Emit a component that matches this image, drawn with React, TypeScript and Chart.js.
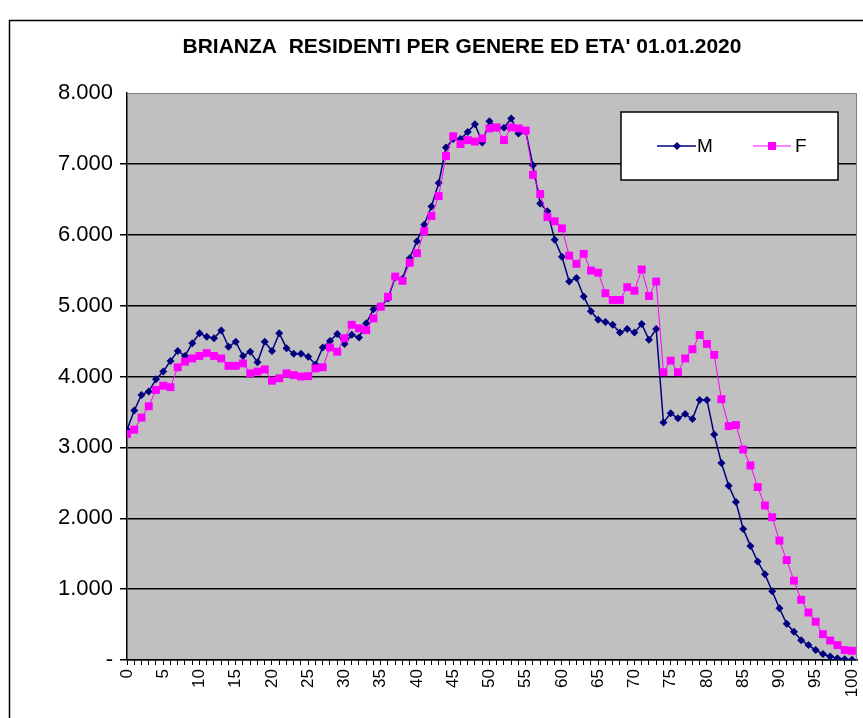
import React, { useEffect, useRef } from 'react';
import { Chart, registerables } from 'chart.js';

Chart.register(...registerables);

const TITLE = "BRIANZA  RESIDENTI PER GENERE ED ETA' 01.01.2020";
const FONT = '"Liberation Sans", Arial, sans-serif';

// ages 0..100 (category labels)
const AGES: number[] = Array.from({ length: 101 }, (_, i) => i);

const MALES: number[] = [
  3250, 3520, 3740, 3790, 3960, 4070, 4220, 4360, 4290, 4470,
  4610, 4560, 4540, 4650, 4420, 4490, 4290, 4350, 4200, 4490,
  4360, 4610, 4400, 4320, 4320, 4280, 4170, 4410, 4500, 4600,
  4460, 4590, 4550, 4750, 4950, 4990, 5100, 5400, 5380, 5670,
  5910, 6140, 6400, 6730, 7230, 7350, 7350, 7450, 7560, 7300,
  7600, 7510, 7510, 7640, 7430, 7460, 6980, 6440, 6330, 5930,
  5690, 5340, 5390, 5130, 4920, 4800, 4770, 4730, 4620, 4670,
  4620, 4740, 4520, 4670, 3350, 3480, 3410, 3470, 3400, 3670,
  3670, 3180, 2780, 2460, 2230, 1850, 1610, 1390, 1210, 970,
  730, 510, 400, 280, 210, 140, 85, 50, 25, 12,
  5,
];

const FEMALES: number[] = [
  3190, 3250, 3420, 3580, 3810, 3870, 3850, 4130, 4210, 4255,
  4290, 4330, 4290, 4255, 4150, 4150, 4185, 4045, 4070, 4100,
  3940, 3975, 4045, 4020, 4000, 4005, 4115, 4130, 4410, 4350,
  4540, 4730, 4680, 4655, 4820, 4985, 5125, 5410, 5350, 5605,
  5740, 6050, 6265, 6545, 7110, 7390, 7280, 7335, 7315, 7360,
  7500, 7515, 7335, 7515, 7500, 7470, 6845, 6575, 6250, 6190,
  6090, 5705, 5590, 5730, 5495, 5465, 5175, 5080, 5080, 5260,
  5210, 5510, 5135, 5340, 4060, 4225, 4060, 4255, 4385, 4585,
  4460, 4305, 3680, 3300, 3315, 2970, 2745, 2440, 2180, 2015,
  1685, 1410, 1120, 850, 670, 540, 365, 275, 210, 140,
  130,
];

const SERIES_NAMES = ['M', 'F'];
const M_COLOR = '#000080';
const F_COLOR = '#FF00FF';

const decorPlugin = {
  id: 'decor',
  beforeDraw(chart: any) {
    const { ctx, chartArea, width, height } = chart;
    ctx.save();
    ctx.fillStyle = '#ffffff';
    ctx.fillRect(0, 0, width, height);
    ctx.fillStyle = '#C0C0C0';
    ctx.fillRect(chartArea.left, chartArea.top, chartArea.right - chartArea.left, chartArea.bottom - chartArea.top);
    // outer chart border
    ctx.strokeStyle = '#000';
    ctx.lineWidth = 1.5;
    ctx.beginPath();
    ctx.moveTo(9.5, height + 5);
    ctx.lineTo(9.5, 20.5);
    ctx.lineTo(width + 5, 20.5);
    ctx.stroke();
    ctx.restore();
  },
  beforeDatasetsDraw(chart: any) {
    const { ctx, chartArea } = chart;
    ctx.save();
    ctx.strokeStyle = '#808080';
    ctx.lineWidth = 1;
    ctx.beginPath();
    ctx.moveTo(chartArea.left, chartArea.top + 0.5);
    ctx.lineTo(chartArea.right - 0.5, chartArea.top + 0.5);
    ctx.lineTo(chartArea.right - 0.5, chartArea.bottom);
    ctx.stroke();
    ctx.restore();
  },
  afterDatasetsDraw(chart: any) {
    const { ctx } = chart;
    ctx.save();
    // title
    ctx.fillStyle = '#000';
    ctx.font = `bold 21px ${FONT}`;
    ctx.textAlign = 'center';
    ctx.textBaseline = 'middle';
    ctx.fillText(TITLE, 462, 47);

    // legend box
    ctx.fillStyle = '#fff';
    ctx.fillRect(621, 112, 217, 68);
    ctx.strokeStyle = '#000';
    ctx.lineWidth = 1.5;
    ctx.strokeRect(621, 112, 217, 68);

    const ly = 146;
    // M sample
    ctx.strokeStyle = M_COLOR;
    ctx.lineWidth = 1.5;
    ctx.beginPath();
    ctx.moveTo(657, ly);
    ctx.lineTo(696, ly);
    ctx.stroke();
    ctx.fillStyle = M_COLOR;
    ctx.beginPath();
    ctx.moveTo(677 - 4, ly);
    ctx.lineTo(677, ly - 4);
    ctx.lineTo(677 + 4, ly);
    ctx.lineTo(677, ly + 4);
    ctx.closePath();
    ctx.fill();
    // F sample
    ctx.strokeStyle = F_COLOR;
    ctx.lineWidth = 1;
    ctx.beginPath();
    ctx.moveTo(753, ly);
    ctx.lineTo(791, ly);
    ctx.stroke();
    ctx.fillStyle = F_COLOR;
    ctx.fillRect(772 - 4, ly - 4, 8, 8);

    ctx.fillStyle = '#000';
    ctx.font = `19px ${FONT}`;
    ctx.textAlign = 'left';
    ctx.fillText(SERIES_NAMES[0], 697, ly + 1);
    ctx.fillText(SERIES_NAMES[1], 795, ly + 1);
    ctx.restore();
  },
};

export default function App() {
  const canvasRef = useRef<HTMLCanvasElement | null>(null);

  useEffect(() => {
    if (!canvasRef.current) return;
    const chart = new Chart(canvasRef.current, {
      type: 'line',
      data: {
        labels: AGES,
        datasets: [
          {
            label: SERIES_NAMES[0],
            data: MALES,
            borderColor: M_COLOR,
            backgroundColor: M_COLOR,
            borderWidth: 1.5,
            pointStyle: 'rectRot',
            pointRadius: 4,
            pointBorderWidth: 0,
            pointBackgroundColor: M_COLOR,
            tension: 0,
            order: 2,
          },
          {
            label: SERIES_NAMES[1],
            data: FEMALES,
            borderColor: F_COLOR,
            backgroundColor: F_COLOR,
            borderWidth: 1,
            pointStyle: 'rect',
            pointRadius: 5.6,
            pointBorderWidth: 0,
            pointBackgroundColor: F_COLOR,
            tension: 0,
            order: 1,
          },
        ],
      },
      options: {
        animation: false,
        responsive: false,
        maintainAspectRatio: false,
        events: [],
        layout: { padding: { left: 0, top: 93, right: 6, bottom: 0 } },
        plugins: {
          legend: { display: false },
          title: { display: false },
          tooltip: { enabled: false },
        },
        scales: {
          x: {
            type: 'linear',
            min: 0,
            max: 100.7,
            afterBuildTicks: (s: any) => {
              s.ticks = AGES.map((v) => ({ value: v }));
            },
            afterFit: (s: any) => {
              s.height = 58;
              s.paddingLeft = 0;
              s.paddingRight = 0;
            },
            ticks: {
              autoSkip: false,
              minRotation: 90,
              maxRotation: 90,
              padding: 4,
              color: '#000',
              font: { family: FONT, size: 17 },
              callback: (v: any) => (Number(v) % 5 === 0 ? String(v) : ''),
            },
            grid: {
              drawOnChartArea: false,
              drawTicks: true,
              tickLength: 5,
              color: '#000',
              lineWidth: 1,
            },
            border: { color: '#000', width: 1.5 },
          },
          y: {
            min: 0,
            max: 8000,
            afterFit: (s: any) => {
              s.width = 127;
            },
            ticks: {
              stepSize: 1000,
              padding: 7,
              color: '#000',
              font: { family: FONT, size: 22 },
              callback: (v: any) => (Number(v) === 0 ? '-' : `${Number(v) / 1000}.000`),
            },
            grid: {
              color: (c: any) => (c.tick && c.tick.value === 8000 ? 'rgba(0,0,0,0)' : '#000'),
              lineWidth: 1.5,
              tickLength: 7,
              drawTicks: true,
            },
            border: { color: '#000', width: 1.5 },
          },
        },
      },
      plugins: [decorPlugin],
    });
    return () => chart.destroy();
  }, []);

  return (
    <div style={{ position: 'absolute', left: 0, top: 0, width: 863, height: 718 }}>
      <canvas ref={canvasRef} width={863} height={718} style={{ width: 863, height: 718, display: 'block' }} />
    </div>
  );
}
